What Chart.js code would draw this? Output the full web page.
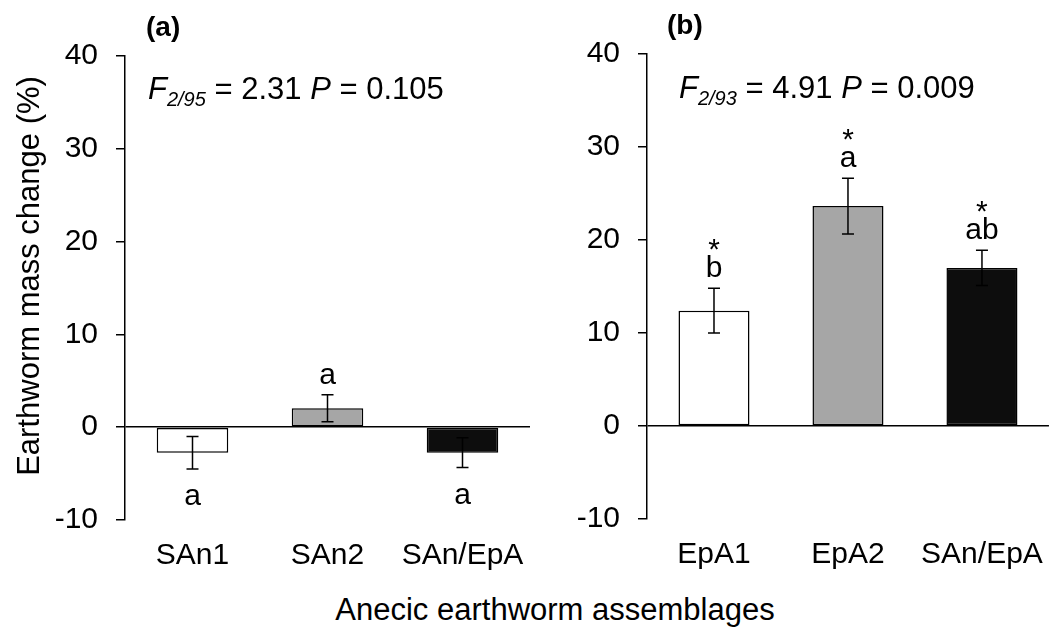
<!DOCTYPE html>
<html>
<head>
<meta charset="utf-8">
<script src="https://cdn.jsdelivr.net/npm/chart.js@4.4.0/dist/chart.umd.min.js"></script>
<style>
    body { margin: 0; background: #fff; width: 1063px; height: 639px; position: relative; overflow: hidden; font-family: "Liberation Sans", Arial, sans-serif; }
    #wrapA { position: absolute; left: 0; top: 0; width: 545px; height: 580px; }
    #wrapB { position: absolute; left: 540px; top: 0; width: 523px; height: 580px; }
    #xTitle { position: absolute; left: 255px; width: 600px; top: 594px; text-align: center; font-size: 31px; line-height: 31px; color: #000; }
</style>
</head>
<body>
<div id="wrapA"><canvas id="chartA"></canvas></div>
<div id="wrapB"><canvas id="chartB"></canvas></div>
<div id="xTitle">Anecic earthworm assemblages</div>
<script>
// panel (a)
const labelsA = ['SAn1', 'SAn2', 'SAn/EpA'];
const meansA = [-2.75, 2.05, -2.75];
const errorsA = [1.75, 1.45, 1.6];
const lettersA = ['a', 'a', 'a'];
const starsA = ['', '', ''];
const statA = ['2/95', '2.31', '0.105'];

// panel (b)
const labelsB = ['EpA1', 'EpA2', 'SAn/EpA'];
const meansB = [12.4, 23.65, 17.0];
const errorsB = [2.4, 3.0, 1.9];
const lettersB = ['b', 'a', 'ab'];
const starsB = ['*', '*', '*'];
const statB = ['2/93', '4.91', '0.009'];

const barColors = ['#ffffff', '#a6a6a6', '#0d0d0d'];
const yMin = -10, yMax = 40, yStep = 10;
const yTitle = 'Earthworm mass change (%)';

const FONT = '"Liberation Sans", Arial, sans-serif';

/**
 * Draws error bars, significance letters, the F statistic, the panel tag
 * and (for the left panel) the y axis title.
 */
const annotPlugin = {
    id: 'annot',
    afterDatasetsDraw(chart, args, opts) {
        const ctx = chart.ctx;
        const y = chart.scales.y;
        const area = chart.chartArea;
        const meta = chart.getDatasetMeta(0);
        ctx.save();
        ctx.strokeStyle = '#000';
        ctx.fillStyle = '#000';
        ctx.lineWidth = 1.5;
        meta.data.forEach((bar, i) => {
            const m = opts.means[i], e = opts.errors[i];
            const yHi = y.getPixelForValue(m + e);
            const yLo = y.getPixelForValue(m - e);
            ctx.beginPath();
            ctx.moveTo(bar.x, yHi); ctx.lineTo(bar.x, yLo);
            ctx.moveTo(bar.x - 6, yHi); ctx.lineTo(bar.x + 6, yHi);
            ctx.moveTo(bar.x - 6, yLo); ctx.lineTo(bar.x + 6, yLo);
            ctx.stroke();

            ctx.textAlign = 'center';
            ctx.textBaseline = 'alphabetic';
            ctx.font = '30px ' + FONT;
            if (m >= 0) {
                const base = yHi - 11;
                ctx.fillText(opts.letters[i], bar.x, base);
                if (opts.stars[i]) ctx.fillText(opts.stars[i], bar.x, base - 18);
            } else {
                ctx.fillText(opts.letters[i], bar.x, yLo + 36);
            }
        });

        // F statistic line
        let x = area.left + opts.statX;
        const base = area.top + opts.statY;
        ctx.textAlign = 'left';
        ctx.font = 'italic 31px ' + FONT;
        ctx.fillText('F', x, base);
        x += ctx.measureText('F').width;
        ctx.font = 'italic 20px ' + FONT;
        ctx.fillText(opts.stat[0], x, base + 7);
        x += ctx.measureText(opts.stat[0]).width;
        ctx.font = '31px ' + FONT;
        const mid = ' = ' + opts.stat[1] + ' ';
        ctx.fillText(mid, x, base);
        x += ctx.measureText(mid).width;
        ctx.font = 'italic 31px ' + FONT;
        ctx.fillText('P', x, base);
        x += ctx.measureText('P').width;
        ctx.font = '31px ' + FONT;
        ctx.fillText(' = ' + opts.stat[2], x, base);

        // panel tag
        ctx.font = 'bold 28px ' + FONT;
        ctx.fillText(opts.tag, area.left + opts.tagX, area.top - 20);

        // y axis title
        if (opts.yTitle) {
            ctx.translate(39, 276);
            ctx.rotate(-Math.PI / 2);
            ctx.textAlign = 'center';
            ctx.font = '31px ' + FONT;
            ctx.fillText(opts.yTitle, 0, 0);
        }
        ctx.restore();
    }
};

function makeChart(id, labels, means, errors, letters, stars, stat, cfg) {
    return new Chart(document.getElementById(id), {
        type: 'bar',
        data: {
            labels: labels,
            datasets: [{
                data: means,
                backgroundColor: barColors,
                borderColor: '#000',
                borderWidth: 1.5,
                borderSkipped: false,
                categoryPercentage: 1,
                barPercentage: 0.53
            }]
        },
        options: {
            responsive: true,
            maintainAspectRatio: false,
            animation: false,
            layout: { padding: { top: cfg.top, right: cfg.right, left: 0, bottom: 0 } },
            scales: {
                x: {
                    grid: { display: false, drawTicks: false },
                    border: { display: false },
                    ticks: { color: '#000', font: { family: FONT, size: 30 }, padding: 18, maxRotation: 0 },
                    afterFit(scale) { scale.height = cfg.xHeight; }
                },
                y: {
                    min: yMin,
                    max: yMax,
                    ticks: { stepSize: yStep, color: '#000', font: { family: FONT, size: 30 }, padding: 18 },
                    grid: {
                        color: c => (c.tick && c.tick.value === 0) ? '#000' : 'rgba(0,0,0,0)',
                        tickColor: '#000',
                        tickLength: 9,
                        lineWidth: 1.5
                    },
                    border: { display: true, color: '#000', width: 1.5 },
                    afterFit(scale) { scale.width = cfg.yWidth; }
                }
            },
            plugins: {
                legend: { display: false },
                tooltip: { enabled: false },
                annot: {
                    means: means, errors: errors, letters: letters, stars: stars, stat: stat,
                    statX: cfg.statX, statY: cfg.statY, tag: cfg.tag, tagX: cfg.tagX,
                    yTitle: cfg.yTitle
                }
            }
        },
        plugins: [annotPlugin]
    });
}

makeChart('chartA', labelsA, meansA, errorsA, lettersA, starsA, statA,
    { top: 56, right: 15, xHeight: 60, yWidth: 125, yTitle: yTitle, statX: 23, statY: 43, tag: '(a)', tagX: 21 });
makeChart('chartB', labelsB, meansB, errorsB, lettersB, starsB, statB,
    { top: 54, right: 13, xHeight: 61, yWidth: 107, yTitle: '', statX: 32, statY: 44, tag: '(b)', tagX: 20 });
</script>
</body>
</html>
